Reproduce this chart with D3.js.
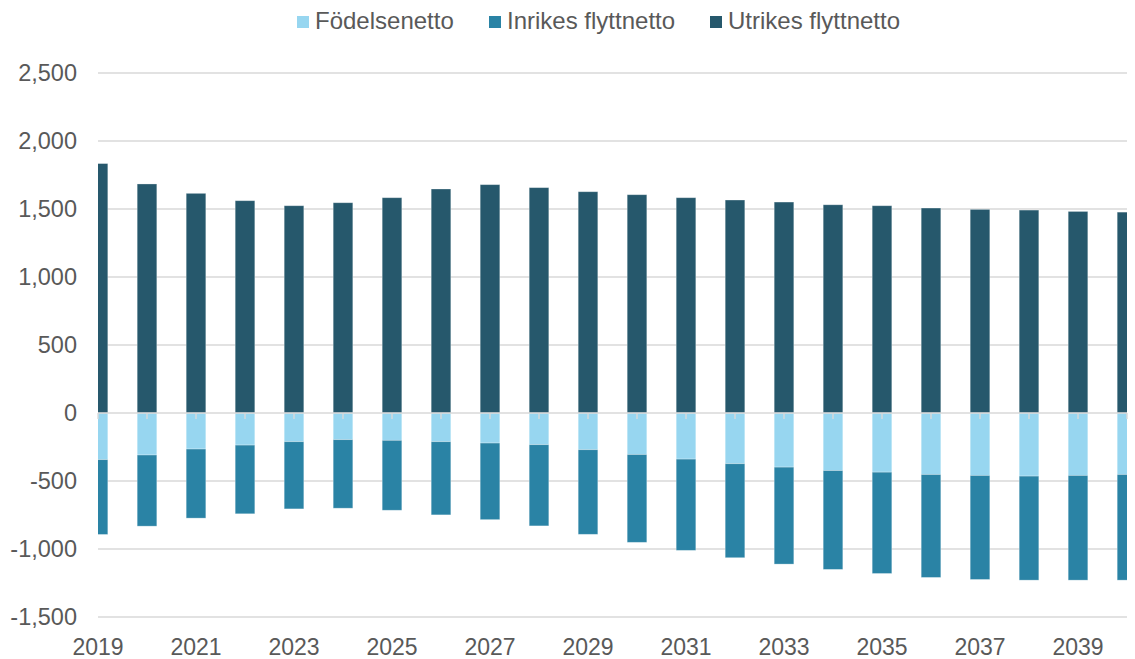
<!DOCTYPE html>
<html>
<head>
<meta charset="utf-8">
<script src="https://cdn.jsdelivr.net/npm/d3@7"></script>
<style>
  html, body { margin: 0; padding: 0; background: #fff; }
  svg { display: block; font-family: "Liberation Sans", Arial, sans-serif; }
</style>
</head>
<body>
<div id="chart"></div>
<script>
// Data
const years = [2019, 2020, 2021, 2022, 2023, 2024, 2025, 2026, 2027, 2028, 2029,
  2030, 2031, 2032, 2033, 2034, 2035, 2036, 2037, 2038, 2039, 2040];
const fodelsenetto = [-343, -309, -265, -236, -211, -196, -201, -211, -221, -233, -270,
  -305, -339, -373, -398, -423, -435, -452, -459, -464, -459, -452];
const inrikes = [-550, -523, -508, -505, -494, -504, -514, -538, -563, -597, -622,
  -646, -671, -691, -713, -727, -745, -757, -765, -765, -770, -777];
const utrikes = [1834, 1684, 1615, 1561, 1524, 1546, 1583, 1647, 1679, 1657, 1627,
  1605, 1583, 1566, 1551, 1531, 1524, 1507, 1497, 1492, 1482, 1477];
const seriesNames = ['Födelsenetto', 'Inrikes flyttnetto', 'Utrikes flyttnetto'];
const seriesColors = ['#97D6F0', '#2A83A5', '#26586C'];
const yTicks = [-1500, -1000, -500, 0, 500, 1000, 1500, 2000, 2500];
const xLabelYears = years.filter((d, i) => i % 2 === 0);

const width = 1135, height = 659;
const plot = { left: 98, right: 1127, top: 73, bottom: 617 };
const textColor = '#595959';
const gridColor = '#D9D9D9';

const svg = d3.select('#chart')
  .append('svg')
  .attr('width', width)
  .attr('height', height);

const x = d3.scalePoint()
  .domain(years)
  .range([plot.left, plot.right]);

const y = d3.scaleLinear()
  .domain([-1500, 2500])
  .range([plot.bottom, plot.top]);

const fmt = d3.formatLocale({ decimal: '.', thousands: ',', grouping: [3], currency: ['', ''], minus: '-' }).format(',');

// Grid lines
svg.append('g')
  .selectAll('line')
  .data(yTicks.filter(d => d !== 0))
  .enter()
  .append('line')
  .attr('x1', plot.left)
  .attr('x2', plot.right)
  .attr('y1', d => y(d))
  .attr('y2', d => y(d))
  .style('stroke', gridColor)
  .style('stroke-width', 1.4);

// Y labels
svg.append('g')
  .selectAll('text')
  .data(yTicks)
  .enter()
  .append('text')
  .attr('x', 77)
  .attr('y', d => y(d))
  .attr('dy', '0.35em')
  .attr('text-anchor', 'end')
  .style('fill', textColor)
  .style('font-size', '23.5px')
  .text(d => fmt(d));

// Stacked bars (positive and negative stacks)
const rows = years.map((yr, i) => ({
  year: yr,
  [seriesNames[0]]: fodelsenetto[i],
  [seriesNames[1]]: inrikes[i],
  [seriesNames[2]]: utrikes[i]
}));
const stacked = d3.stack()
  .keys(seriesNames)
  .offset(d3.stackOffsetDiverging)(rows);

svg.append('clipPath')
  .attr('id', 'plotClip')
  .append('rect')
  .attr('x', plot.left)
  .attr('y', 0)
  .attr('width', plot.right - plot.left)
  .attr('height', height);

const barW = x.step() * 0.4;
const bars = svg.append('g').attr('clip-path', 'url(#plotClip)');
stacked.forEach((layer, k) => {
  bars.append('g')
    .selectAll('rect')
    .data(layer)
    .enter()
    .append('rect')
    .attr('x', d => x(d.data.year) - barW / 2)
    .attr('width', barW)
    .attr('y', d => y(Math.max(d[0], d[1])))
    .attr('height', d => Math.abs(y(d[0]) - y(d[1])))
    .style('fill', seriesColors[k])
    .style('stroke', 'rgba(255,255,255,0.35)')
    .style('stroke-width', 0.8);
});

// Zero axis line with tick marks
svg.append('line')
  .attr('x1', plot.left)
  .attr('x2', plot.right)
  .attr('y1', y(0))
  .attr('y2', y(0))
  .style('stroke', gridColor)
  .style('stroke-width', 1.4);

svg.append('g')
  .selectAll('line')
  .data(years)
  .enter()
  .append('line')
  .attr('x1', d => x(d))
  .attr('x2', d => x(d))
  .attr('y1', y(0))
  .attr('y2', y(0) + 6)
  .style('stroke', gridColor)
  .style('stroke-width', 1.4);

// X labels
svg.append('g')
  .selectAll('text')
  .data(xLabelYears)
  .enter()
  .append('text')
  .attr('x', d => x(d))
  .attr('y', 655)
  .attr('text-anchor', 'middle')
  .style('fill', textColor)
  .style('font-size', '23px')
  .text(d => d);

// Legend
const legendX = [297, 489, 710];
const legend = svg.append('g')
  .selectAll('g')
  .data(seriesNames)
  .enter()
  .append('g')
  .attr('transform', (d, i) => `translate(${legendX[i]}, 0)`);

legend.append('rect')
  .attr('x', 0)
  .attr('y', 16)
  .attr('width', 12)
  .attr('height', 12)
  .style('fill', (d, i) => seriesColors[i]);

legend.append('text')
  .attr('x', 18)
  .attr('y', 29)
  .style('fill', textColor)
  .style('font-size', '24px')
  .text(d => d);
</script>
</body>
</html>
